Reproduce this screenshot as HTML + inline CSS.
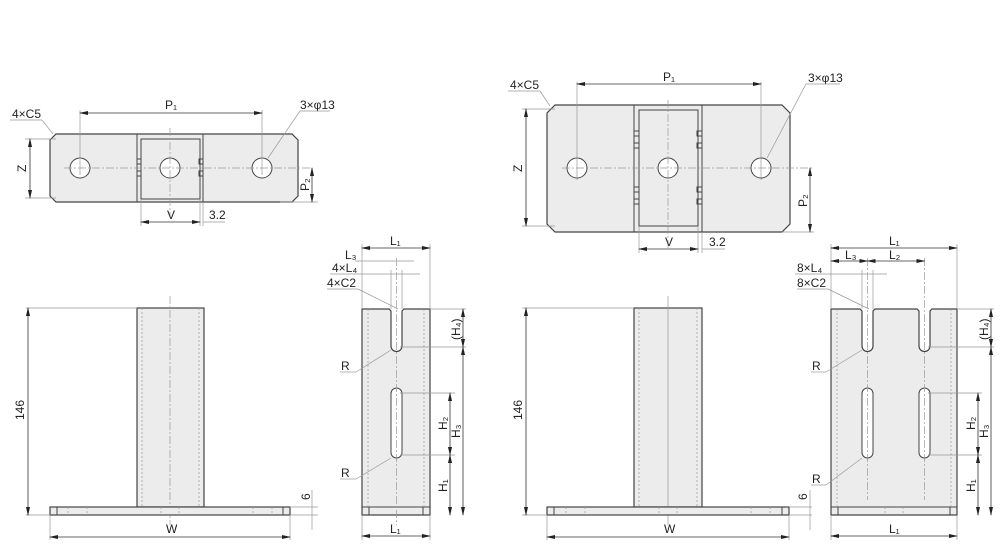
<!DOCTYPE html>
<html><head><meta charset="utf-8"><style>
html,body{margin:0;padding:0;background:#fff}
svg{display:block}
text{font-family:"Liberation Sans",sans-serif;font-size:12px;fill:#222}
.o{fill:#ececec;stroke:#444;stroke-width:1.2}
.h{fill:#fff;stroke:#444;stroke-width:1}
.n{fill:none;stroke:#444;stroke-width:1}
.d{fill:none;stroke:#999;stroke-width:.7;stroke-dasharray:2 2}
.c{fill:none;stroke:#999;stroke-width:.7;stroke-dasharray:8 2 2 2}
.x{fill:none;stroke:#999;stroke-width:.7}
.dm{fill:none;stroke:#333;stroke-width:.8;marker-start:url(#a);marker-end:url(#a)}
</style></head><body>
<svg width="1000" height="551" viewBox="0 0 1000 551" xmlns="http://www.w3.org/2000/svg">
<defs><marker id="a" markerUnits="userSpaceOnUse" markerWidth="9" markerHeight="6" refX="8" refY="3" orient="auto-start-reverse"><path d="M0,1 L9,3 L0,5z" fill="#222"/></marker></defs>

<!-- LEFT TOP VIEW -->
<path class="o" d="M56,134 H292 L298,140 V196 L292,202 H56 L50,196 V140 Z"/>
<line class="n" x1="137" y1="134" x2="137" y2="202"/><line class="n" x1="203" y1="134" x2="203" y2="202"/>
<rect class="n" x="141" y="139" width="59" height="60"/>
<rect class="n" x="137" y="159" width="4" height="5"/><rect class="n" x="137" y="171" width="4" height="5"/>
<rect class="n" x="199" y="159" width="4" height="5"/><rect class="n" x="199" y="171" width="4" height="5"/>
<circle class="h" cx="80" cy="168" r="10"/><circle class="h" cx="170" cy="168" r="10"/><circle class="h" cx="262" cy="168" r="10"/>
<line class="c" x1="64" y1="168" x2="310" y2="168"/><line class="c" x1="170" y1="128" x2="170" y2="218"/>
<line class="x" x1="80" y1="110" x2="80" y2="175"/><line class="x" x1="262" y1="110" x2="262" y2="175"/>
<line class="dm" x1="80" y1="113" x2="262" y2="113"/><text x="165" y="109">P₁</text>
<text x="12" y="118">4×C5</text><line class="x" x1="10" y1="120" x2="42" y2="120"/><line class="x" x1="42" y1="120" x2="53" y2="134"/>
<text x="300" y="109">3×φ13</text><line class="x" x1="300" y1="111" x2="330" y2="111"/><line class="x" x1="300" y1="111" x2="268" y2="158"/>
<line class="x" x1="25" y1="139" x2="56" y2="139"/><line class="x" x1="25" y1="198" x2="56" y2="198"/>
<line class="dm" x1="30" y1="139" x2="30" y2="198"/><text transform="translate(26,172) rotate(-90)">Z</text>
<line class="x" x1="280" y1="202" x2="318" y2="202"/>
<line class="dm" x1="312" y1="168" x2="312" y2="202"/><text transform="translate(309,191) rotate(-90)">P₂</text>
<line class="x" x1="141" y1="199" x2="141" y2="226"/><line class="x" x1="200" y1="199" x2="200" y2="226"/><line class="x" x1="203" y1="202" x2="203" y2="226"/>
<line class="dm" x1="141" y1="222" x2="200" y2="222"/><text x="167" y="219">V</text>
<line class="x" x1="203" y1="222" x2="225" y2="222"/><text x="209" y="219">3.2</text>

<!-- LEFT FRONT -->
<rect class="o" x="137" y="308" width="67" height="199"/>
<line class="d" x1="142" y1="308" x2="142" y2="507"/><line class="d" x1="199" y1="308" x2="199" y2="507"/>
<line class="c" x1="170" y1="296" x2="170" y2="525"/>
<rect class="o" x="50" y="507" width="240" height="8"/>
<line class="n" x1="57" y1="507" x2="57" y2="515"/><line class="n" x1="283" y1="507" x2="283" y2="515"/>
<line class="d" x1="68" y1="507" x2="68" y2="515"/><line class="d" x1="87" y1="507" x2="87" y2="515"/><line class="d" x1="161" y1="507" x2="161" y2="515"/><line class="d" x1="179" y1="507" x2="179" y2="515"/><line class="d" x1="253" y1="507" x2="253" y2="515"/><line class="d" x1="272" y1="507" x2="272" y2="515"/>
<line class="x" x1="26" y1="308" x2="137" y2="308"/><line class="x" x1="26" y1="515" x2="50" y2="515"/>
<line class="dm" x1="28" y1="308" x2="28" y2="515"/><text transform="translate(24,420) rotate(-90)">146</text>
<line class="x" x1="50" y1="515" x2="50" y2="540"/><line class="x" x1="290" y1="515" x2="290" y2="540"/>
<line class="dm" x1="50" y1="537" x2="290" y2="537"/><text x="166" y="533">W</text>
<line class="x" x1="290" y1="507" x2="318" y2="507"/><line class="x" x1="290" y1="515" x2="318" y2="515"/>
<line class="x" x1="312" y1="490" x2="312" y2="530"/><text transform="translate(310,500) rotate(-90)">6</text>

<!-- LEFT SIDE -->
<path class="o" d="M362,309 H389 L391,311 V346 A5.5,5.5 0 0 0 402,346 V311 L404,309 H430 V515 H362 Z"/>
<line class="n" x1="362" y1="507" x2="430" y2="507"/>
<line class="n" x1="369" y1="507" x2="369" y2="515"/><line class="n" x1="423" y1="507" x2="423" y2="515"/>
<line class="d" x1="368" y1="309" x2="368" y2="507"/><line class="d" x1="424" y1="309" x2="424" y2="507"/>
<rect class="h" x="391" y="388" width="11" height="70" rx="5.5"/>
<line class="c" x1="396.5" y1="258" x2="396.5" y2="525"/>
<line class="x" x1="362" y1="244" x2="362" y2="309"/><line class="x" x1="430" y1="244" x2="430" y2="309"/>
<line class="dm" x1="362" y1="248" x2="430" y2="248"/><text x="390" y="245">L₁</text>
<line class="x" x1="355" y1="261" x2="414" y2="261"/><text x="345" y="259">L₃</text>
<line class="x" x1="330" y1="274" x2="420" y2="274"/><text x="332" y="272">4×L₄</text>
<line class="x" x1="391" y1="270" x2="391" y2="309"/><line class="x" x1="402" y1="270" x2="402" y2="309"/>
<text x="327" y="287">4×C2</text><line class="x" x1="327" y1="289" x2="358" y2="289"/><line class="x" x1="358" y1="289" x2="398" y2="309"/>
<text x="341" y="370">R</text><line class="x" x1="340" y1="372" x2="356" y2="372"/><line class="x" x1="356" y1="372" x2="391" y2="350"/>
<text x="341" y="477">R</text><line class="x" x1="340" y1="479" x2="356" y2="479"/><line class="x" x1="356" y1="479" x2="391" y2="458"/>
<line class="x" x1="400" y1="347" x2="466" y2="347"/><line class="x" x1="430" y1="309" x2="466" y2="309"/>
<line class="x" x1="400" y1="393" x2="455" y2="393"/><line class="x" x1="400" y1="455" x2="455" y2="455"/>
<line class="dm" x1="463" y1="309" x2="463" y2="347"/><text transform="translate(460,340) rotate(-90)">(H₄)</text>
<line class="dm" x1="463" y1="347" x2="463" y2="515"/><text transform="translate(460,438) rotate(-90)">H₃</text>
<line class="dm" x1="450" y1="393" x2="450" y2="455"/><text transform="translate(447,430) rotate(-90)">H₂</text>
<line class="dm" x1="450" y1="455" x2="450" y2="515"/><text transform="translate(447,492) rotate(-90)">H₁</text>
<line class="x" x1="362" y1="515" x2="362" y2="540"/><line class="x" x1="430" y1="515" x2="430" y2="540"/>
<line class="dm" x1="362" y1="536" x2="430" y2="536"/><text x="390" y="533">L₁</text>

<!-- RIGHT TOP VIEW -->
<path class="o" d="M555,105 H782 L790,113 V224 L782,232 H555 L547,224 V113 Z"/>
<line class="n" x1="634" y1="105" x2="634" y2="232"/><line class="n" x1="702" y1="105" x2="702" y2="232"/>
<rect class="n" x="639" y="110" width="59" height="116"/>
<rect class="n" x="634" y="131" width="5" height="5"/><rect class="n" x="634" y="143" width="5" height="5"/>
<rect class="n" x="634" y="187" width="5" height="5"/><rect class="n" x="634" y="199" width="5" height="5"/>
<rect class="n" x="697" y="131" width="5" height="5"/><rect class="n" x="697" y="143" width="5" height="5"/>
<rect class="n" x="697" y="187" width="5" height="5"/><rect class="n" x="697" y="199" width="5" height="5"/>
<circle class="h" cx="577" cy="168" r="10"/><circle class="h" cx="668" cy="168" r="10"/><circle class="h" cx="761" cy="168" r="10"/>
<line class="c" x1="562" y1="168" x2="812" y2="168"/><line class="c" x1="668" y1="100" x2="668" y2="250"/>
<line class="x" x1="577" y1="82" x2="577" y2="180"/><line class="x" x1="761" y1="82" x2="761" y2="180"/>
<line class="dm" x1="577" y1="84" x2="761" y2="84"/><text x="663" y="81">P₁</text>
<text x="510" y="89">4×C5</text><line class="x" x1="508" y1="91" x2="540" y2="91"/><line class="x" x1="540" y1="91" x2="550" y2="106"/>
<text x="808" y="82">3×φ13</text><line class="x" x1="806" y1="84" x2="840" y2="84"/><line class="x" x1="806" y1="84" x2="767" y2="158"/>
<line class="x" x1="522" y1="109" x2="555" y2="109"/><line class="x" x1="522" y1="226" x2="555" y2="226"/>
<line class="dm" x1="526" y1="109" x2="526" y2="226"/><text transform="translate(522,172) rotate(-90)">Z</text>
<line class="x" x1="782" y1="232" x2="814" y2="232"/>
<line class="dm" x1="810" y1="168" x2="810" y2="232"/><text transform="translate(807,207) rotate(-90)">P₂</text>
<line class="x" x1="639" y1="226" x2="639" y2="253"/><line class="x" x1="698" y1="226" x2="698" y2="253"/><line class="x" x1="702" y1="232" x2="702" y2="253"/>
<line class="dm" x1="639" y1="249" x2="698" y2="249"/><text x="665" y="246">V</text>
<line class="x" x1="702" y1="249" x2="725" y2="249"/><text x="709" y="246">3.2</text>

<!-- RIGHT FRONT -->
<rect class="o" x="634" y="308" width="68" height="199"/>
<line class="d" x1="639" y1="308" x2="639" y2="507"/><line class="d" x1="697" y1="308" x2="697" y2="507"/>
<line class="x" x1="668" y1="296" x2="668" y2="525"/>
<rect class="o" x="547" y="507" width="242" height="8"/>
<line class="n" x1="554" y1="507" x2="554" y2="515"/><line class="n" x1="782" y1="507" x2="782" y2="515"/>
<line class="d" x1="566" y1="507" x2="566" y2="515"/><line class="d" x1="585" y1="507" x2="585" y2="515"/><line class="d" x1="659" y1="507" x2="659" y2="515"/><line class="d" x1="677" y1="507" x2="677" y2="515"/><line class="d" x1="751" y1="507" x2="751" y2="515"/><line class="d" x1="770" y1="507" x2="770" y2="515"/>
<line class="x" x1="522" y1="308" x2="634" y2="308"/><line class="x" x1="522" y1="515" x2="547" y2="515"/>
<line class="dm" x1="526" y1="308" x2="526" y2="515"/><text transform="translate(522,420) rotate(-90)">146</text>
<line class="x" x1="547" y1="515" x2="547" y2="540"/><line class="x" x1="789" y1="515" x2="789" y2="540"/>
<line class="dm" x1="547" y1="537" x2="789" y2="537"/><text x="664" y="533">W</text>
<line class="x" x1="789" y1="507" x2="812" y2="507"/><line class="x" x1="789" y1="515" x2="812" y2="515"/>
<line class="x" x1="810" y1="490" x2="810" y2="530"/><text transform="translate(807,500) rotate(-90)">6</text>

<!-- RIGHT SIDE -->
<path class="o" d="M831,309 H860 L862,311 V346 A5.5,5.5 0 0 0 873,346 V311 L875,309 H917 L919,311 V346 A5.5,5.5 0 0 0 930,346 V311 L932,309 H957 V515 H831 Z"/>
<line class="n" x1="831" y1="507" x2="957" y2="507"/>
<line class="n" x1="838" y1="507" x2="838" y2="515"/><line class="n" x1="950" y1="507" x2="950" y2="515"/>
<line class="d" x1="837" y1="309" x2="837" y2="507"/><line class="d" x1="951" y1="309" x2="951" y2="507"/>
<line class="d" x1="885" y1="507" x2="885" y2="515"/><line class="d" x1="903" y1="507" x2="903" y2="515"/>
<rect class="h" x="862" y="388" width="11" height="70" rx="5.5"/><rect class="h" x="919" y="388" width="11" height="70" rx="5.5"/>
<line class="c" x1="867.5" y1="258" x2="867.5" y2="500"/><line class="c" x1="924.5" y1="258" x2="924.5" y2="500"/>
<line class="x" x1="831" y1="244" x2="831" y2="309"/><line class="x" x1="957" y1="244" x2="957" y2="309"/>
<line class="dm" x1="831" y1="248" x2="957" y2="248"/><text x="889" y="245">L₁</text>
<line class="dm" x1="831" y1="261" x2="867.5" y2="261"/><text x="845" y="259">L₃</text>
<line class="dm" x1="867.5" y1="261" x2="924.5" y2="261"/><text x="889" y="259">L₂</text>
<line class="x" x1="795" y1="274" x2="887" y2="274"/><text x="797" y="272">8×L₄</text>
<line class="x" x1="862" y1="270" x2="862" y2="309"/><line class="x" x1="873" y1="270" x2="873" y2="309"/>
<text x="797" y="287">8×C2</text><line class="x" x1="797" y1="289" x2="828" y2="289"/><line class="x" x1="828" y1="289" x2="869" y2="309"/>
<text x="812" y="370">R</text><line class="x" x1="811" y1="372" x2="826" y2="372"/><line class="x" x1="826" y1="372" x2="862" y2="350"/>
<text x="812" y="483">R</text><line class="x" x1="811" y1="485" x2="826" y2="485"/><line class="x" x1="826" y1="485" x2="862" y2="458"/>
<line class="x" x1="928" y1="347" x2="994" y2="347"/><line class="x" x1="957" y1="309" x2="994" y2="309"/>
<line class="x" x1="928" y1="393" x2="982" y2="393"/><line class="x" x1="928" y1="455" x2="982" y2="455"/>
<line class="dm" x1="991" y1="309" x2="991" y2="347"/><text transform="translate(988,340) rotate(-90)">(H₄)</text>
<line class="dm" x1="991" y1="347" x2="991" y2="515"/><text transform="translate(988,438) rotate(-90)">H₃</text>
<line class="dm" x1="978" y1="393" x2="978" y2="455"/><text transform="translate(975,430) rotate(-90)">H₂</text>
<line class="dm" x1="978" y1="455" x2="978" y2="515"/><text transform="translate(975,492) rotate(-90)">H₁</text>
<line class="x" x1="831" y1="515" x2="831" y2="540"/><line class="x" x1="957" y1="515" x2="957" y2="540"/>
<line class="dm" x1="831" y1="536" x2="957" y2="536"/><text x="889" y="533">L₁</text>
</svg>
</body></html>
